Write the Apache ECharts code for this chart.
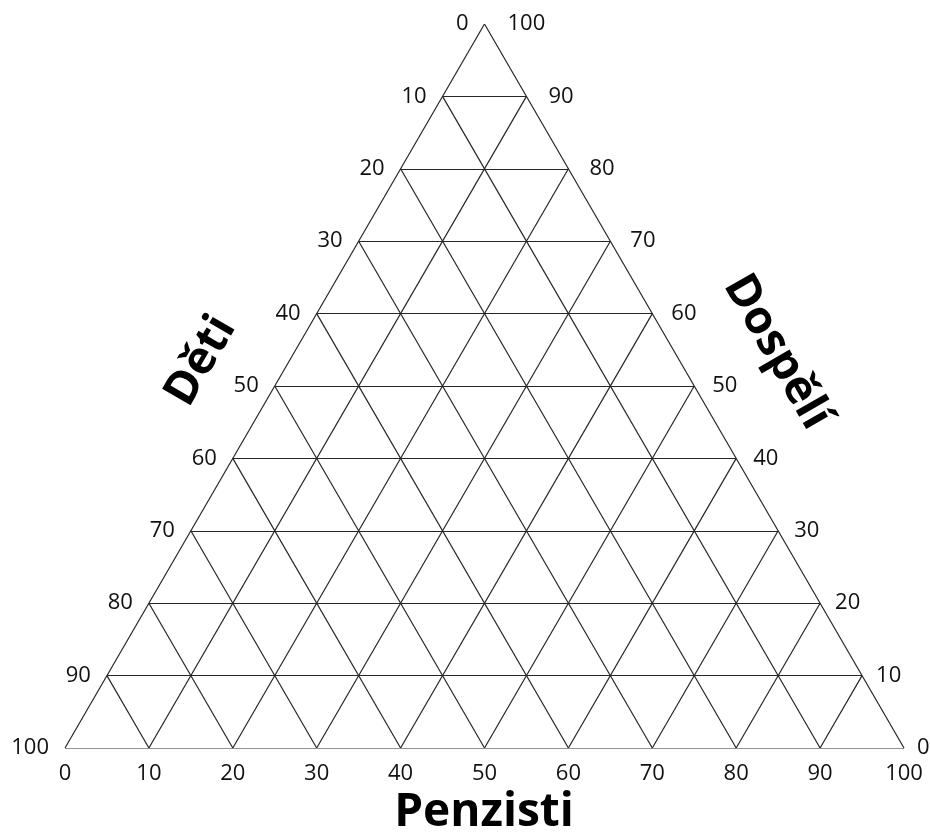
<!DOCTYPE html>
<html>
<head>
<meta charset="utf-8">
<script src="https://cdn.jsdelivr.net/npm/echarts@6/dist/echarts.min.js"></script>
<style>
  html, body { margin: 0; padding: 0; background: #fff; }
  #tern { width: 930px; height: 839px; }
</style>
</head>
<body>
<div id="tern"></div>
<script>
(function () {

    // tick values along each side (10 % steps)
    var ticks = [0, 10, 20, 30, 40, 50, 60, 70, 80, 90, 100];
    var detiTicks = [0, 10, 20, 30, 40, 50, 60, 70, 80, 90, 100];      // left side, top -> bottom
    var dospeliTicks = [100, 90, 80, 70, 60, 50, 40, 30, 20, 10, 0];   // right side, top -> bottom
    var penzistiTicks = [0, 10, 20, 30, 40, 50, 60, 70, 80, 90, 100];  // bottom, left -> right

    var axisNames = ['Děti', 'Dospělí', 'Penzisti'];

    var H = 100 * Math.sqrt(3) / 2;
    var ink = '#262626';
    var txt = '#111';

    // grid lines of the ternary diagram
    var segs = [];
    ticks.forEach(function (t) {
        if (t > 0) {
            // horizontal: from left side to right side
            segs.push({coords: [[50 - t / 2, H * (1 - t / 100)], [50 + t / 2, H * (1 - t / 100)]]});
            // parallel to right side, from bottom to left side
            segs.push({coords: [[t, 0], [t / 2, H * t / 100]]});
        }
        if (t < 100) {
            // parallel to left side, from bottom to right side
            segs.push({coords: [[t, 0], [t + (100 - t) / 2, H * (100 - t) / 100]]});
        }
    });

    var leftPts = detiTicks.map(function (d) {
        return {value: [50 - d / 2, H * (1 - d / 100), d]};
    });
    // labels on the right sit a bit further out near the top
    var rightPts = dospeliTicks.map(function (v, i) {
        var d = detiTicks[i];
        return {
            value: [50 + d / 2, H * (1 - d / 100), v],
            label: {distance: 23 - 10 * d / 100}
        };
    });

    var myChart = echarts.init(document.getElementById('tern'));
    var option = {
        animation: false,
        backgroundColor: '#fff',
        grid: {left: 65, right: 26, top: 24, bottom: 91},
        xAxis: {
            type: 'value',
            min: 0,
            max: 100,
            interval: 10,
            axisLine: {show: false},
            axisTick: {show: false},
            splitLine: {show: false},
            axisLabel: {
                margin: 15,
                fontFamily: 'Open Sans',
                fontSize: 22,
                color: txt,
                formatter: function (v) {
                    return penzistiTicks[Math.round(v / 10)];
                }
            }
        },
        yAxis: {
            type: 'value',
            min: 0,
            max: H,
            show: false
        },
        graphic: [
            {
                type: 'text',
                x: 484,
                y: 813,
                style: {
                    text: axisNames[2],
                    font: 'bold 46px "Open Sans"',
                    fill: '#000',
                    align: 'center',
                    verticalAlign: 'middle'
                }
            },
            {
                type: 'text',
                x: 201,
                y: 361,
                rotation: Math.PI / 3,
                style: {
                    text: axisNames[0],
                    font: 'bold 46px "Open Sans"',
                    fill: '#000',
                    align: 'center',
                    verticalAlign: 'middle'
                }
            },
            {
                type: 'text',
                x: 777,
                y: 352,
                rotation: -Math.PI / 3,
                style: {
                    text: axisNames[1],
                    font: 'bold 46px "Open Sans"',
                    fill: '#000',
                    align: 'center',
                    verticalAlign: 'middle'
                }
            }
        ],
        series: [
            {
                type: 'lines',
                coordinateSystem: 'cartesian2d',
                polyline: false,
                silent: true,
                lineStyle: {color: ink, width: 1.2, opacity: 1},
                data: segs
            },
            {
                type: 'scatter',
                symbolSize: 0,
                silent: true,
                itemStyle: {opacity: 1},
                label: {
                    show: true,
                    position: 'left',
                    distance: 16,
                    fontFamily: 'Open Sans',
                    fontSize: 22,
                    color: txt,
                    formatter: function (p) { return p.value[2]; }
                },
                data: leftPts
            },
            {
                type: 'scatter',
                symbolSize: 0,
                silent: true,
                itemStyle: {opacity: 1},
                label: {
                    show: true,
                    position: 'right',
                    distance: 18,
                    fontFamily: 'Open Sans',
                    fontSize: 22,
                    color: txt,
                    formatter: function (p) { return p.value[2]; }
                },
                data: rightPts
            }
        ]
    };

    myChart.setOption(option);

})();
</script>
</body>
</html>
